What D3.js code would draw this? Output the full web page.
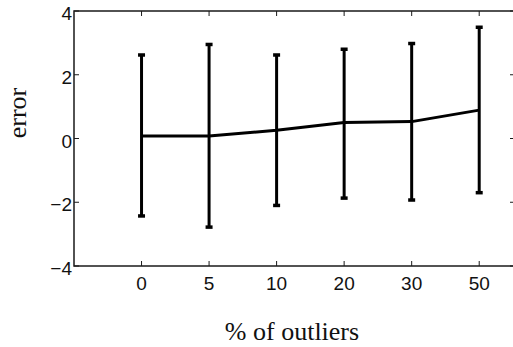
<!DOCTYPE html>
<html>
<head>
<meta charset="utf-8">
<script src="https://cdn.jsdelivr.net/npm/d3@7"></script>
<style>
  html, body { margin: 0; padding: 0; background: #fff; }
  svg { display: block; }
</style>
</head>
<body>
<svg id="chart" width="513" height="347"></svg>
<script>
// Outlier percentages and the error statistics measured at each one
const categories = ["0", "5", "10", "20", "30", "50"];
const meanError  = [0.08, 0.08, 0.26, 0.50, 0.53, 0.89];
const upperError = [2.62, 2.95, 2.62, 2.80, 2.98, 3.49];
const lowerError = [-2.43, -2.78, -2.10, -1.87, -1.93, -1.70];
const yTicks = [-4, -2, 0, 2, 4];
const yTickLabels = ["\u22124", "\u22122", "0", "2", "4"];

const svg = d3.select("#chart");
const plotLeft = 74, plotTop = 11, plotRight = 515, plotBottom = 266;

// categories sit at positions 1..6 along the index axis
const x = d3.scaleLinear().domain([0, 6.53]).range([plotLeft, plotRight]);
const y = d3.scaleLinear().domain([-4, 4]).range([plotBottom, plotTop]);

const frameColor = "#1a1a1a";
const tickFont = "'Liberation Sans', Arial, sans-serif";
const labelFont = "'Liberation Serif', 'Times New Roman', serif";

// axes box
svg.append("rect")
  .attr("x", plotLeft).attr("y", plotTop)
  .attr("width", plotRight - plotLeft).attr("height", plotBottom - plotTop)
  .attr("fill", "none").attr("stroke", frameColor).attr("stroke-width", 1.5);

// inward ticks on all four sides
const tickLen = 5;
const xIdx = categories.map((c, i) => i + 1);
svg.append("g").selectAll("line").data(xIdx).join("line")
  .attr("x1", d => x(d)).attr("x2", d => x(d))
  .attr("y1", plotBottom).attr("y2", plotBottom - tickLen)
  .attr("stroke", frameColor).attr("stroke-width", 1);
svg.append("g").selectAll("line").data(xIdx).join("line")
  .attr("x1", d => x(d)).attr("x2", d => x(d))
  .attr("y1", plotTop).attr("y2", plotTop + tickLen)
  .attr("stroke", frameColor).attr("stroke-width", 1);
svg.append("g").selectAll("line").data(yTicks).join("line")
  .attr("x1", plotLeft).attr("x2", plotLeft + tickLen)
  .attr("y1", d => y(d)).attr("y2", d => y(d))
  .attr("stroke", frameColor).attr("stroke-width", 1);
svg.append("g").selectAll("line").data(yTicks).join("line")
  .attr("x1", plotRight).attr("x2", plotRight - tickLen)
  .attr("y1", d => y(d)).attr("y2", d => y(d))
  .attr("stroke", frameColor).attr("stroke-width", 1);

// tick labels
svg.append("g").selectAll("text").data(categories).join("text")
  .attr("x", (d, i) => x(i + 1)).attr("y", 290)
  .attr("text-anchor", "middle")
  .attr("font-family", tickFont).attr("font-size", 19)
  .attr("fill", "#111")
  .text(d => d);
svg.append("g").selectAll("text").data(yTicks).join("text")
  .attr("x", plotLeft - 2).attr("y", d => y(d) + 9)
  .attr("text-anchor", "end")
  .attr("font-family", tickFont).attr("font-size", 19)
  .attr("fill", "#111")
  .text((d, i) => yTickLabels[i]);

// error bars
const bars = svg.append("g");
const capW = 7;
categories.forEach((c, i) => {
  const cx = x(i + 1);
  bars.append("line")
    .attr("x1", cx).attr("x2", cx)
    .attr("y1", y(upperError[i])).attr("y2", y(lowerError[i]))
    .attr("stroke", "#000").attr("stroke-width", 3);
  [upperError[i], lowerError[i]].forEach(v => {
    bars.append("line")
      .attr("x1", cx - capW / 2).attr("x2", cx + capW / 2)
      .attr("y1", y(v)).attr("y2", y(v))
      .attr("stroke", "#000").attr("stroke-width", 3.5);
  });
});

// mean error line
const line = d3.line().x((d, i) => x(i + 1)).y(d => y(d));
svg.append("path")
  .attr("d", line(meanError))
  .attr("fill", "none").attr("stroke", "#000").attr("stroke-width", 3)
  .attr("stroke-linejoin", "round");

// axis titles
svg.append("text")
  .attr("x", 292).attr("y", 340)
  .attr("text-anchor", "middle")
  .attr("font-family", labelFont).attr("font-size", 26)
  .attr("fill", "#111")
  .text("% of outliers");
svg.append("text")
  .attr("transform", "translate(26,113) rotate(-90)")
  .attr("text-anchor", "middle")
  .attr("font-family", labelFont).attr("font-size", 26)
  .attr("fill", "#111")
  .text("error");
</script>
</body>
</html>
